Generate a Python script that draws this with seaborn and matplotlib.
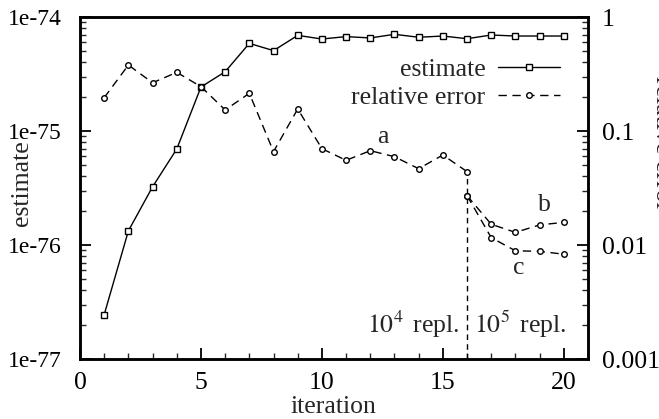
import numpy as np
import pandas as pd
import matplotlib
matplotlib.use("Agg")
import matplotlib.pyplot as plt
import seaborn as sns
from matplotlib.ticker import FixedLocator, FuncFormatter, LogLocator, MultipleLocator, NullFormatter
from matplotlib.lines import Line2D

# ---- data ----
iteration = list(range(1, 21))
estimate = [2.45e-77, 1.33e-76, 3.24e-76, 6.95e-76, 2.43e-75, 3.31e-75, 5.87e-75,
            5.07e-75, 6.90e-75, 6.41e-75, 6.73e-75, 6.55e-75, 7.05e-75, 6.64e-75,
            6.81e-75, 6.45e-75, 6.95e-75, 6.81e-75, 6.81e-75, 6.81e-75]
err_iter = list(range(1, 17))
rel_error = [0.196, 0.379, 0.265, 0.327, 0.245, 0.153, 0.214, 0.0659, 0.156, 0.070,
             0.0553, 0.0672, 0.0595, 0.0467, 0.0616, 0.044]
branch_iter = [16, 17, 18, 19, 20]
rel_error_b = [0.0271, 0.0152, 0.0129, 0.0150, 0.0158]
rel_error_c = [0.0271, 0.0116, 0.0089, 0.0088, 0.0083]
switch_iter = 16
left_ticks = [1e-77, 1e-76, 1e-75, 1e-74]
right_ticks = [0.001, 0.01, 0.1, 1]
labels_abc = ["a", "b", "c"]
label_pos = [(12.5, 0.0885), (19.2, 0.0224), (18.15, 0.00625)]

sns.set_style("ticks")
plt.rcParams['font.family'] = ['Liberation Serif', 'DejaVu Serif']
plt.rcParams['mathtext.fontset'] = 'stix'
FS = 18.5

fig = plt.figure(figsize=(6.59, 4.19), dpi=100)
ax = fig.add_axes([80/659, 1-359/419, (588-80)/659, (359-17)/419])
ax2 = ax.twinx()

df_est = pd.DataFrame({"iteration": iteration, "estimate": estimate})
sns.lineplot(data=df_est, x="iteration", y="estimate", ax=ax, color="black",
             lw=1.0, marker="s", ms=4, mfc="white", mec="black", mew=1.0)

df_err = pd.DataFrame({"iteration": err_iter, "err": rel_error})
df_b = pd.DataFrame({"iteration": branch_iter, "err": rel_error_b})
df_c = pd.DataFrame({"iteration": branch_iter, "err": rel_error_c})
dash = (0, (6, 4))
for d in (df_err, df_b, df_c):
    sns.lineplot(data=d, x="iteration", y="err", ax=ax2, color="black",
                 lw=1.0, ls=dash, marker="o", ms=4, mfc="white", mec="black", mew=1.0)

ax2.plot([switch_iter, switch_iter], [right_ticks[0], rel_error[-1]], color="black",
         lw=1.0, ls=(0, (4, 3)), zorder=1)

ax.set_yscale("log")
ax2.set_yscale("log")
ax.set_xlim(0, 21)
ax.set_ylim(left_ticks[0], left_ticks[-1])
ax2.set_ylim(right_ticks[0], right_ticks[-1])

ax.xaxis.set_major_locator(MultipleLocator(5))
ax.xaxis.set_minor_locator(MultipleLocator(1))
ax.yaxis.set_major_locator(FixedLocator(left_ticks))
ax.yaxis.set_minor_locator(LogLocator(base=10, subs=np.arange(2, 10)))
ax.yaxis.set_minor_formatter(NullFormatter())
ax.yaxis.set_major_formatter(FuncFormatter(lambda v, p: "1e%d" % int(round(np.log10(v)))))
ax2.yaxis.set_major_locator(FixedLocator(right_ticks))
ax2.yaxis.set_minor_locator(LogLocator(base=10, subs=np.arange(2, 10)))
ax2.yaxis.set_minor_formatter(NullFormatter())
ax2.yaxis.set_major_formatter(FuncFormatter(lambda v, p: "%g" % v))

for a in (ax, ax2):
    for s in a.spines.values():
        s.set_linewidth(1.8)
        s.set_color("black")
ax.tick_params(axis="both", which="major", direction="in", length=8, width=1.3,
               labelsize=FS, colors="black")
ax.tick_params(axis="both", which="minor", direction="in", length=4, width=1.0)
ax.tick_params(axis="x", which="both", top=False, pad=9)
ax.tick_params(axis="y", which="both", right=False, pad=13, labelsize=17)
ax2.tick_params(axis="y", which="major", direction="in", length=8, width=1.3,
                labelsize=FS, pad=10, colors="black")
ax2.tick_params(axis="y", which="minor", direction="in", length=4, width=1.0)
ax.set_xlabel("")
ax.set_ylabel("")
ax2.set_ylabel("")

fig.text(11/659, 1-183/419, "estimate", rotation=90, ha="left", va="center", fontsize=FS)
fig.text(651/659, 1-143/419, "relative error", rotation=-90, ha="left", va="center", fontsize=FS)
fig.text(333/659, 1-413/419, "iteration", ha="center", va="baseline", fontsize=FS)

for t, (xx, yy) in zip(labels_abc, label_pos):
    ax2.text(xx, yy, t, ha="center", va="center", fontsize=FS)
ax2.text(15.68, 0.002, r"$10^4\,$ repl.", ha="right", va="center", fontsize=FS)
ax2.text(16.3, 0.002, r"$10^5\,$ repl.", ha="left", va="center", fontsize=FS)

handles = [Line2D([], [], color="black", lw=1.0, marker="s", ms=4, mfc="white", mec="black"),
           Line2D([], [], color="black", lw=1.0, ls=dash, marker="o", ms=4, mfc="white", mec="black")]
ax2.legend(handles, ["estimate", "relative error"], loc="upper right",
           bbox_to_anchor=(0.945, 0.88), frameon=False, markerfirst=False,
           fontsize=FS, handlelength=2.4, handletextpad=0.5, labelspacing=0.2,
           borderpad=0, borderaxespad=0)

fig.savefig("out.png", dpi=100)
